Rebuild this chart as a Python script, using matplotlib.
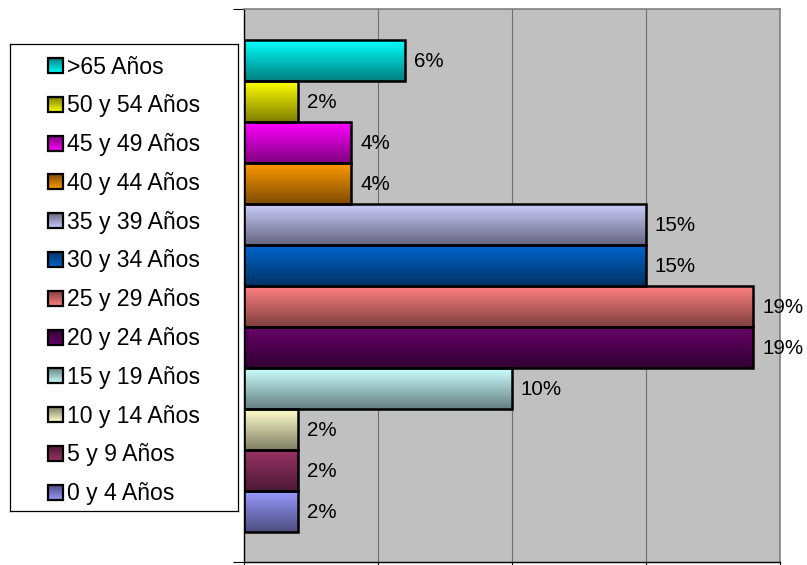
import numpy as np
import matplotlib
matplotlib.use("Agg")
import matplotlib.pyplot as plt
import matplotlib.patches as pat
from matplotlib.colors import LinearSegmentedColormap, to_rgb

plt.rcParams['font.family'] = ['Liberation Sans', 'DejaVu Sans']

# data, bottom to top
categories = ['0 y 4 Años', '5 y 9 Años', '10 y 14 Años', '15 y 19 Años',
              '20 y 24 Años', '25 y 29 Años', '30 y 34 Años', '35 y 39 Años',
              '40 y 44 Años', '45 y 49 Años', '50 y 54 Años', '>65 Años']
values = [2, 2, 2, 10, 19, 19, 15, 15, 4, 4, 2, 6]
labels = ['2%', '2%', '2%', '10%', '19%', '19%', '15%', '15%', '4%', '4%', '2%', '6%']
colors = ['#9999FF', '#993366', '#FFFFCC', '#CCFFFF', '#660066', '#FF8080',
          '#0066CC', '#CCCCFF', '#FF9900', '#FF00FF', '#FFFF00', '#00FFFF']
xticks = [0, 5, 10, 15, 20]

W, H = 807, 565
fig = plt.figure(figsize=(W / 100, H / 100), dpi=100)
ax = fig.add_axes([244 / W, 3 / H, 536 / W, 553 / H])
ax.set_facecolor('#C0C0C0')

def gradient_cmap(c):
    light = np.array(to_rgb(c))
    dark = light * 0.5
    return LinearSegmentedColormap.from_list('g', [dark, light])

grad = np.linspace(0, 1, 64).reshape(-1, 1)
y = np.arange(len(values))
bars = ax.barh(y, values, height=1.0, facecolor='none', edgecolor='black',
               linewidth=1.8, zorder=3)
for b, c in zip(bars, colors):
    x0, y0 = b.get_x(), b.get_y()
    ax.imshow(grad, extent=[x0, x0 + b.get_width(), y0, y0 + b.get_height()],
              origin='lower', aspect='auto', cmap=gradient_cmap(c), zorder=2)

for yi, v, lab in zip(y, values, labels):
    ax.annotate(lab, (v, yi), xytext=(9, -1), textcoords='offset pixels',
                ha='left', va='center', fontsize=14.8, color='black', zorder=4)

ax.set_xlim(0, 20)
ax.set_ylim(-1.24, 12.26)
ax.set_xticks(xticks)
ax.set_xticklabels([])
ax.set_yticks([-1.24, 12.26])
ax.set_yticklabels([])
ax.tick_params(axis='x', direction='out', length=3, width=0.8)
ax.tick_params(axis='y', direction='out', length=8, width=0.8)
ax.grid(axis='x', color='#707070', linewidth=0.8, zorder=1)
ax.set_axisbelow(True)
for s in ['top', 'right']:
    ax.spines[s].set_color('#808080')
    ax.spines[s].set_linewidth(1.2)
for s in ['left', 'bottom']:
    ax.spines[s].set_color('black')
    ax.spines[s].set_linewidth(1.0)

# legend box, drawn in pixel coordinates
lx0, ly0, lx1, ly1 = 10, 44, 238, 511
lg = fig.add_axes([lx0 / W, (H - ly1) / H, (lx1 - lx0) / W, (ly1 - ly0) / H])
lg.set_xticks([])
lg.set_yticks([])
for s in lg.spines.values():
    s.set_color('black')
    s.set_linewidth(0.9)
sq = 15
for i, (cat, c) in enumerate(zip(categories[::-1], colors[::-1])):
    cy = 21.5 + 38.8 * i
    lg.imshow(grad[::-1], extent=[37.5, 37.5 + sq, cy + sq / 2, cy - sq / 2],
              origin='lower', aspect='auto', cmap=gradient_cmap(c))
    lg.add_patch(pat.Rectangle((37.5, cy - sq / 2), sq, sq, facecolor='none',
                               edgecolor='black', linewidth=1.6))
    lg.text(57, cy + 1.5, cat, ha='left', va='center', fontsize=16.6)
lg.set_xlim(0, lx1 - lx0)
lg.set_ylim(ly1 - ly0, 0)

fig.savefig('out.png', dpi=100)
